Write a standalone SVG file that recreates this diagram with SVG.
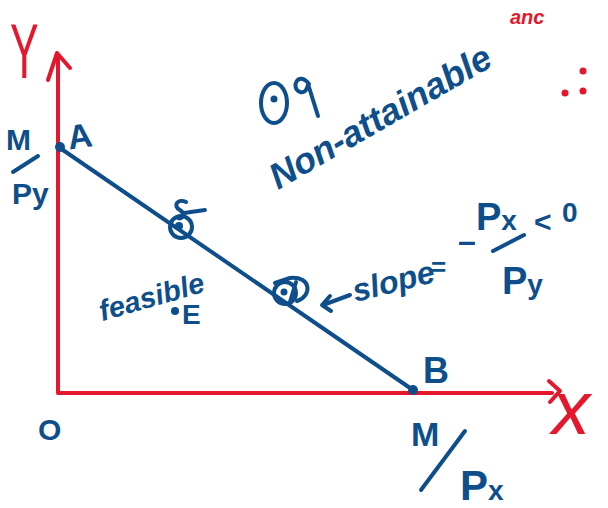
<svg xmlns="http://www.w3.org/2000/svg" width="608" height="508" viewBox="0 0 608 508">
<style>
.r{stroke:#e5172c;fill:none;stroke-width:4;stroke-linecap:round;stroke-linejoin:round}
.b{stroke:#0e4f8b;fill:none;stroke-width:4;stroke-linecap:round;stroke-linejoin:round}
.bt{fill:#0e4f8b;font-family:"Liberation Sans",Arial,sans-serif;font-weight:bold}
.rt{fill:#e5172c;font-family:"Liberation Sans",Arial,sans-serif}
</style>
<rect width="608" height="508" fill="#fff"/>
<g id="axes">
<path class="r" d="M58 56 V393 H552"/>
<path class="r" d="M48 80 L57 53 L70 68"/>
<path class="r" d="M549 381 L560 391 L550 402"/>
<text class="rt" x="0" y="0" font-size="78" transform="translate(10 78) scale(0.55 1)">Y</text>
<text class="rt" x="552" y="434" font-size="76" font-style="italic">x</text>
<text class="rt" x="510" y="24" font-size="20" font-weight="bold" font-style="italic">anc</text>
<circle cx="583" cy="71" r="3.5" fill="#e5172c"/>
<circle cx="565" cy="93" r="3.5" fill="#e5172c"/>
<circle cx="583" cy="91" r="3.5" fill="#e5172c"/>
</g>
<g id="connectors">
<path class="b" d="M60 148 L413 390" stroke-width="3.5"/>
<path class="b" d="M350 295 L323 305 M330 296 L322 305 L331 311" stroke-width="3.5"/>
</g>
<g id="A">
<circle cx="60" cy="147" r="5" fill="#0e4f8b"/>
<text class="bt" x="68" y="148" font-size="34" transform="rotate(-8 80 140)">A</text>
<text class="bt" x="6" y="150" font-size="30">M</text>
<path class="b" d="M13 172 L38 156"/>
<text class="bt" x="12" y="204" font-size="30">Py</text>
</g>
<g id="B">
<circle cx="413" cy="390" r="5" fill="#0e4f8b"/>
<text class="bt" x="423" y="383" font-size="36">B</text>
<text class="bt" x="411" y="446" font-size="34">M</text>
<path class="b" d="M421 490 L465 431" stroke-width="5"/>
<text class="bt" x="460" y="500" font-size="42">P<tspan font-size="28">x</tspan></text>
</g>
<g id="O">
<text class="bt" x="38" y="440" font-size="30">O</text>
</g>
<g id="S">
<circle class="b" cx="181" cy="227" r="11"/>
<circle cx="179" cy="226" r="4" fill="#0e4f8b"/>
<path class="b" d="M186 202 C178 198 172 206 180 210 C186 214 182 220 178 218 M184 213 L205 210"/>
</g>
<g id="D">
<circle class="b" cx="285" cy="293" r="11"/>
<circle cx="284" cy="292" r="3.5" fill="#0e4f8b"/>
<path class="b" d="M275 283 L290 278 C312 276 312 296 297 301 M296 282 L290 302"/>
</g>
<g id="feasible">
<text class="bt" x="94" y="308" font-size="29" font-style="italic" transform="rotate(-16 145 285)">feasible</text>
<circle cx="175" cy="311" r="4" fill="#0e4f8b"/>
<text class="bt" x="182" y="324" font-size="28">E</text>
</g>
<g id="G">
<ellipse class="b" cx="274" cy="103" rx="13" ry="20" stroke-width="5"/>
<circle cx="274" cy="99" r="3.5" fill="#0e4f8b"/>
<path class="b" d="M309 84 C298 70 290 88 300 92 C306 94 308 86 308 84 L318 116"/>
<text class="bt" x="278" y="190" font-size="36" font-style="italic" transform="rotate(-30 278 190)">Non-attainable</text>
</g>
<g id="slope">
<text class="bt" x="355" y="302" font-size="32" font-style="italic" transform="rotate(-14 355 300)">slope</text>
<text class="bt" x="431" y="276" font-size="26">=</text>
<text class="bt" x="458" y="252" font-size="32">–</text>
<text class="bt" x="476" y="230" font-size="38">P<tspan font-size="28">x</tspan></text>
<path class="b" d="M493 251 L524 235"/>
<text class="bt" x="502" y="294" font-size="38">P<tspan font-size="28">y</tspan></text>
<text class="bt" x="534" y="232" font-size="30">&lt;</text>
<text class="bt" x="562" y="222" font-size="28">0</text>
</g>
</svg>
